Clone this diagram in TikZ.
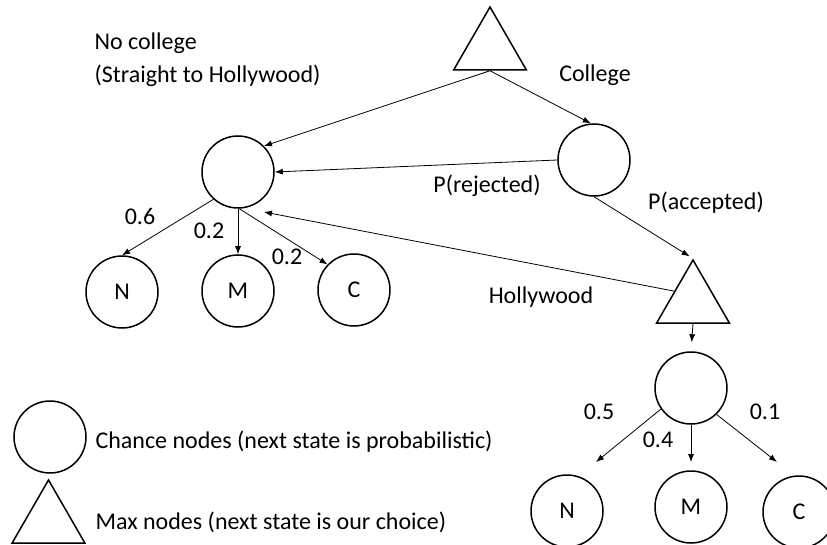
\documentclass[tikz,border=0pt]{standalone}
\usepackage{fontspec}
\setmainfont{Carlito}
\usetikzlibrary{shapes.geometric, arrows.meta}

\begin{document}
\begin{tikzpicture}[x=1pt, y=-1pt, font=\fontsize{24}{29}\selectfont,
  chance/.style={circle, draw, line width=1.5pt, minimum size=72pt, inner sep=0pt},
  maxnode/.style={regular polygon, regular polygon sides=3, draw, line width=1.5pt, minimum size=84pt, inner sep=0pt},
  edge/.style={->, >={Latex[length=8pt, width=6pt]}, line width=0.8pt}]
  \useasboundingbox (0, 0) rectangle (827, 545);

  % tree nodes
  \node[maxnode] (top) at (490, 49) {};
  \node[chance] (lc) at (238, 172) {};
  \node[chance] (rc) at (594, 160) {};
  \node[maxnode] (hw) at (693, 302) {};
  \node[chance] (hc) at (691, 388) {};

  \node[chance] (n1) at (122, 292) {N};
  \node[chance] (m1) at (238, 291) {M};
  \node[chance] (c1) at (354, 290) {C};
  \node[chance] (n2) at (567, 511) {N};
  \node[chance] (m2) at (691, 507) {M};
  \node[chance] (c2) at (799, 512) {C};

  \coordinate (lcin) at (264, 212);
  \coordinate (n2in) at (596, 462);
  \coordinate (m2in) at (691, 462);
  \coordinate (c2in) at (777, 462);

  % connectors
  \draw[edge] (top.south) -- (lc.45);
  \draw[edge] (top.south) -- (rc.95);
  \draw[edge] (rc.west) -- (lc.east);
  \draw[edge, shorten >=4pt] (rc.south) -- (hw.north);
  \draw[edge] (hw.side 1) -- (lcin);
  \draw[edge, shorten >=9pt] (hw.south) -- (hc.north);

  \draw[edge] (lc.228) -- (n1.north);
  \draw[edge] (lc.south) -- (m1.north);
  \draw[edge] (lc.-88) -- (c1.136);
  \draw[edge] (hc.215) -- (n2in);
  \draw[edge] (hc.south) -- (m2in);
  \draw[edge] (hc.-46) -- (c2in);

  % labels
  \node[align=left, anchor=west, font=\fontsize{24}{33}\selectfont] (nocol) at (91, 60) {No college\\(Straight to Hollywood)};
  \node (col) at (595, 75) {College};
  \node (rej) at (487, 186) {P(rejected)};
  \node (acc) at (706, 203) {P(accepted)};
  \node (hwl) at (541, 297) {Hollywood};
  \node (p1) at (140, 216) {0.6};
  \node (p2) at (209, 231) {0.2};
  \node (p3) at (287, 257) {0.2};
  \node (p4) at (599, 412) {0.5};
  \node (p5) at (658, 440) {0.4};
  \node (p6) at (765, 412) {0.1};

  % legend
  \node[chance] (key1) at (50, 437) {};
  \node[maxnode] (key2) at (48.5, 522) {};
  \node[anchor=west] (key1t) at (92, 442) {Chance nodes (next state is probabilistic)};
  \node[anchor=west] (key2t) at (92, 522) {Max nodes (next state is our choice)};
\end{tikzpicture}
\end{document}
